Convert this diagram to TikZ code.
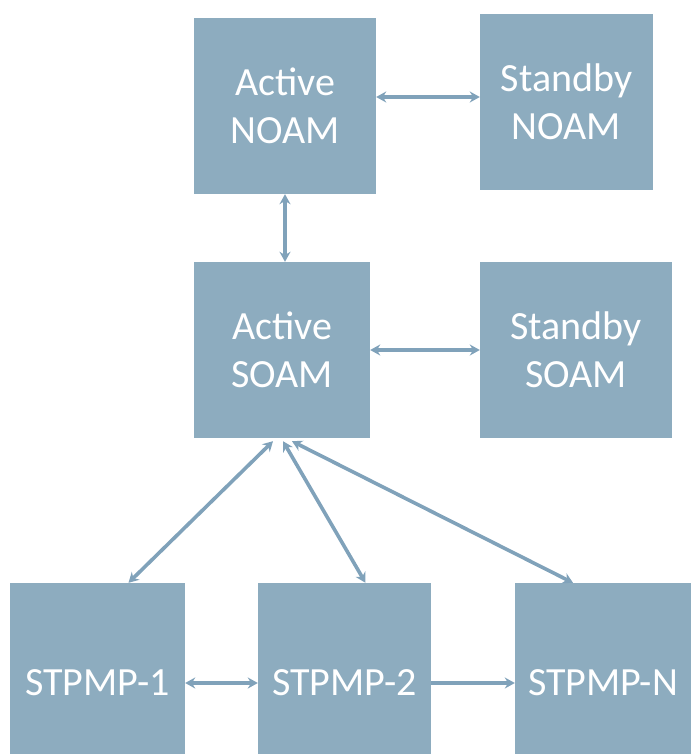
\documentclass[tikz,border=0pt]{standalone}
\usepackage{fontspec}
\setmainfont{Carlito}
\usetikzlibrary{arrows.meta}
\definecolor{boxfill}{RGB}{141,172,191}
\definecolor{arrowcol}{RGB}{128,162,186}
\tikzset{
  unit/.style={draw=none, fill=boxfill, text=white, inner sep=0pt, align=center,
    font=\fontsize{40}{48}\selectfont},
  link/.style={draw=arrowcol, line width=3.6pt, {Stealth[length=10pt,width=11pt]}-{Stealth[length=10pt,width=11pt]}},
  onelink/.style={draw=arrowcol, line width=3.6pt, -{Stealth[length=10pt,width=11pt]}}
}
\begin{document}
\begin{tikzpicture}[x=1pt,y=-1pt]
\useasboundingbox (0,0) rectangle (691,754);
\clip (0,0) rectangle (691,754);
\node[unit, minimum width=182pt, minimum height=176pt] (anoam) at (285,106) {Active\\NOAM};
\node[unit, minimum width=173pt, minimum height=176pt] (snoam) at (566.5,102) {Standby\\NOAM};
\node[unit, minimum width=176pt, minimum height=176pt] (asoam) at (282,350) {Active\\SOAM};
\node[unit, minimum width=192pt, minimum height=176pt] (ssoam) at (576,350) {Standby\\SOAM};
\node[unit, minimum width=175pt, minimum height=200pt] (s1) at (97.5,683) {STPMP-1};
\node[unit, minimum width=173pt, minimum height=200pt] (s2) at (344.5,683) {STPMP-2};
\node[unit, minimum width=176pt, minimum height=200pt] (sn) at (603,683) {STPMP-N};

\coordinate (nh) at ([yshift=9pt]anoam.east);
\draw[link] (nh) -- (nh -| snoam.west);
\draw[link] (anoam.south) -- (anoam.south |- asoam.north);
\draw[link] (asoam.east) -- (ssoam.west);
\draw[link] ([xshift=-9pt,yshift=-3pt]asoam.south) -- ([xshift=31pt]s1.north);
\draw[link] ([xshift=1pt,yshift=-3pt]asoam.south) -- ([xshift=21pt]s2.north);
\draw[link] ([xshift=10pt,yshift=-3pt]asoam.south) -- ([xshift=-30pt]sn.north);
\draw[link] (s1.east) -- (s2.west);
\draw[onelink] (s2.east) -- (sn.west);
\end{tikzpicture}
\end{document}
